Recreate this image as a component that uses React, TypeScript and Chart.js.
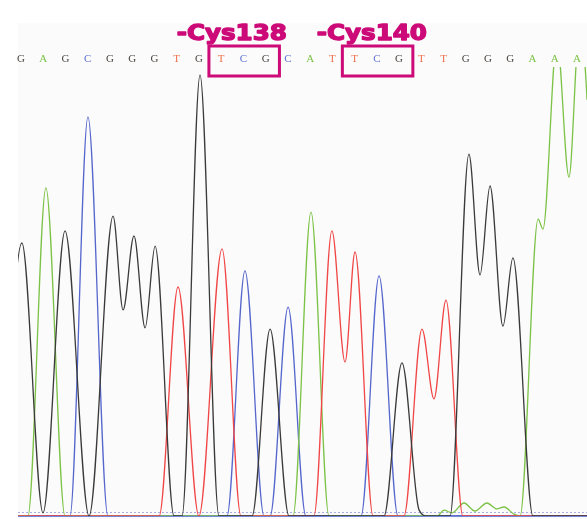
import { useEffect, useRef } from 'react';
import { Chart, registerables } from 'chart.js';

Chart.register(...registerables);

// Called bases (position index 0..25)
const BASES = ['G','A','G','C','G','G','G','T','G','T','C','G','C','A','T','T','C','G','T','T','G','G','G','A','A','A'];

// Trace key points: x = base position, y = signal intensity
const G_X = [-0.94, 0.04, 0.99, 1.98, 3.06, 4.14, 4.59, 5.08, 5.58, 6.03, 6.88, 7.24, 8.05, 8.9, 10.39, 11.2, 12.05, 16.32, 17.13, 17.9, 18.29, 19.29, 20.14, 20.64, 21.09, 21.67, 22.12, 23.02, 26.93];
const G_Y = [0, 608, 7, 635, 0, 668, 459, 624, 419, 601, 0, 0, 982, 0, 0, 416, 0, 0, 341, 13, 0, 0, 806, 537, 735, 423, 575, 0, 0];

const A_X = [-0.94, 0.31, 1.12, 1.98, 12.23, 13.04, 13.85, 18.71, 19.02, 19.38, 19.92, 20.41, 20.95, 21.4, 21.72, 22.17, 22.44, 23.25, 23.47, 24.1, 24.64, 25.09, 25.45, 25.85, 26.3];
const A_Y = [0, 0, 731, 0, 0, 677, 0, 0, 13, 7, 29, 11, 29, 16, 20, 4, 0, 661, 639, 1060, 755, 1071, 927, 214, 0];

const C_X = [-0.94, 2.2, 3.01, 3.91, 9.26, 10.07, 10.93, 11.2, 12.01, 12.81, 15.29, 16.1, 16.95, 26.93];
const C_Y = [0, 0, 889, 0, 0, 546, 0, 0, 465, 0, 0, 535, 0, 0];

const T_X = [-0.94, 6.21, 7.06, 8.0, 9.04, 9.89, 13.17, 13.98, 14.57, 15.02, 15.83, 17.22, 18.03, 18.57, 19.11, 19.87, 26.93];
const T_Y = [0, 0, 510, 0, 595, 0, 0, 635, 343, 588, 0, 0, 416, 261, 481, 0, 0];

// Annotations
const MUT_LABELS = ['-Cys138', '-Cys140'];
const MUT_LABEL_POS = [7.0, 13.3];
const MUT_BOX_START = [9, 15];
const NOISE_LEVEL = 9;

const COLORS: Record<string, string> = {
  G: '#3a3a3a',
  A: '#7cc246',
  C: '#5566cc',
  T: '#f04646',
};
const LETTER_COLORS: Record<string, string> = {
  G: '#4a4540',
  A: '#7cc246',
  C: '#5f72d2',
  T: '#f0704c',
};
const MAGENTA = '#cc0a78';

const toPoints = (xs: number[], ys: number[]) => xs.map((x, i) => ({ x, y: ys[i] }));

const decor = {
  id: 'decor',
  beforeDraw(chart: any) {
    const { ctx, chartArea } = chart;
    ctx.save();
    ctx.fillStyle = '#fbfbfb';
    ctx.fillRect(chartArea.left, 23, chart.width - chartArea.left, chart.height - 23);
    ctx.restore();
  },
  beforeDatasetsDraw(chart: any) {
    const { ctx, chartArea, scales } = chart;
    const yN = Math.round(scales.y.getPixelForValue(NOISE_LEVEL)) + 0.5;
    ctx.save();
    ctx.strokeStyle = '#a9aee6';
    ctx.lineWidth = 1;
    ctx.setLineDash([2, 2]);
    ctx.beginPath();
    ctx.moveTo(chartArea.left, yN);
    ctx.lineTo(chartArea.right, yN);
    ctx.stroke();
    ctx.setLineDash([]);
    const y0 = scales.y.getPixelForValue(0);
    ctx.strokeStyle = '#4a62cc';
    ctx.lineWidth = 1.5;
    ctx.beginPath();
    ctx.moveTo(chartArea.left, y0);
    ctx.lineTo(chartArea.right, y0);
    ctx.stroke();
    ctx.restore();
  },
  afterDraw(chart: any) {
    const { ctx, scales } = chart;
    const xs = scales.x;
    ctx.save();
    // base letters
    ctx.font = '11px "Liberation Serif"';
    ctx.textAlign = 'center';
    ctx.textBaseline = 'alphabetic';
    BASES.forEach((b, i) => {
      ctx.fillStyle = LETTER_COLORS[b];
      ctx.fillText(b, xs.getPixelForValue(i), 62);
    });
    // boxes
    ctx.strokeStyle = MAGENTA;
    ctx.lineWidth = 3;
    MUT_BOX_START.forEach((s) => {
      const l = xs.getPixelForValue(s - 0.55);
      const r = xs.getPixelForValue(s + 2 + 0.62);
      ctx.strokeRect(l, 46, r - l, 30);
    });
    // labels
    ctx.fillStyle = MAGENTA;
    ctx.strokeStyle = MAGENTA;
    ctx.lineWidth = 1.4;
    ctx.lineJoin = 'round';
    ctx.font = 'bold 21px "DejaVu Sans"';
    ctx.textAlign = 'left';
    MUT_LABELS.forEach((t, i) => {
      ctx.save();
      ctx.translate(xs.getPixelForValue(MUT_LABEL_POS[i]), 40);
      ctx.scale(1.17, 1);
      ctx.fillText(t, 0, 0);
      ctx.strokeText(t, 0, 0);
      ctx.restore();
    });
    ctx.restore();
  },
};

export default function App() {
  const ref = useRef<HTMLCanvasElement | null>(null);
  useEffect(() => {
    if (!ref.current) return;
    const ds = (label: string, xs: number[], ys: number[]) => ({
      label,
      data: toPoints(xs, ys),
      borderColor: COLORS[label],
      borderWidth: 1.3,
      pointRadius: 0,
      fill: false,
      cubicInterpolationMode: 'monotone' as const,
    });
    const chart = new Chart(ref.current, {
      type: 'line',
      data: {
        datasets: [
          ds('G', G_X, G_Y),
          ds('T', T_X, T_Y),
          ds('A', A_X, A_Y),
          ds('C', C_X, C_Y),
        ],
      },
      options: {
        animation: false,
        responsive: false,
        layout: { padding: { left: 18, right: 0, top: 67, bottom: 3 } },
        scales: {
          x: { type: 'linear', min: -0.135, max: 25.45, display: false },
          y: { type: 'linear', min: 0, max: 1000, display: false },
        },
        plugins: {
          legend: { display: false },
          tooltip: { enabled: false },
        },
      },
      plugins: [decor],
    });
    return () => chart.destroy();
  }, []);
  return (
    <div style={{ position: 'fixed', left: 0, top: 0, width: 587, height: 519, background: '#fff' }}>
      <canvas ref={ref} width={587} height={519} style={{ display: 'block' }} />
    </div>
  );
}
